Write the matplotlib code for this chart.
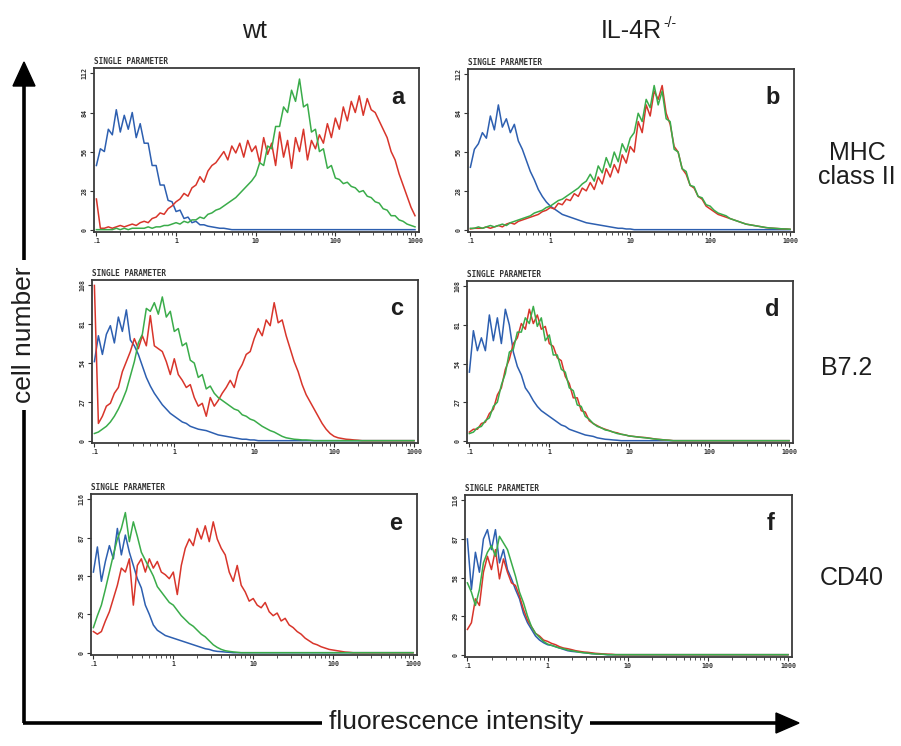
import numpy as np
import matplotlib
matplotlib.use("Agg")
import matplotlib.pyplot as plt
from matplotlib.lines import Line2D
from matplotlib.patches import Polygon
from matplotlib.ticker import LogLocator, NullFormatter

# ---------------- data (cell counts per channel, log x from 0.1 to 1000, 81 channels) -------------
X_TICKS = [0.1, 1, 10, 100, 1000]
X_TICK_LABELS = [".1", "1", "10", "100", "1000"]

Y_TICKS_MHC = [0, 28, 56, 84, 112]
Y_TICKS_B72 = [0, 27, 54, 81, 108]
Y_TICKS_CD40 = [0, 29, 58, 87, 116]

PANEL_LETTERS = ["a", "b", "c", "d", "e", "f"]
COLUMN_TITLES = ["wt", "IL-4R"]
COLUMN_SUPERSCRIPT = "-/-"
ROW_TITLES = ["MHC\nclass II", "B7.2", "CD40"]

# panel a (wt, MHC class II)
A_BLUE = [46, 58, 56, 72, 68, 86, 70, 82, 72, 84,
          66, 76, 62, 62, 46, 46, 32, 32, 21, 20,
          13, 14, 8, 9, 5, 6, 3.5, 3.5, 2.5, 2,
          1.5, 1, 1, 0.5, 0, 0, 0, 0, 0, 0,
          0, 0, 0, 0, 0, 0, 0, 0, 0, 0,
          0, 0, 0, 0, 0, 0, 0, 0, 0, 0,
          0, 0, 0, 0, 0, 0, 0, 0, 0, 0,
          0, 0, 0, 0, 0, 0, 0, 0, 0, 0,
          0]
A_RED = [22, 1, 1, 2, 1, 2, 3, 2, 3, 4,
         3, 5, 6, 5, 8, 9, 12, 11, 15, 17,
         20, 22, 26, 24, 30, 32, 38, 34, 42, 46,
         48, 52, 56, 50, 60, 55, 62, 52, 64, 56,
         60, 48, 66, 54, 62, 46, 70, 52, 64, 44,
         66, 56, 72, 50, 64, 58, 68, 62, 76, 66,
         80, 72, 88, 78, 92, 84, 96, 82, 94, 86,
         84, 78, 72, 66, 56, 50, 40, 32, 24, 16,
         10]
A_GREEN = [0, 0, 0, 0, 0, 1, 0, 1, 0, 1,
           1, 1, 1, 2, 1, 2, 2, 3, 3, 4,
           5, 4, 6, 5, 7, 7, 9, 8, 11, 12,
           14, 15, 17, 19, 21, 23, 26, 29, 32, 35,
           39, 48, 46, 60, 58, 74, 74, 88, 84, 100,
           92, 108, 88, 90, 70, 72, 56, 58, 44, 46,
           37, 36, 33, 34, 31, 30, 27, 28, 24, 23,
           20, 19, 15, 14, 10, 10, 7, 6, 4, 3,
           2]

# panel b (IL-4R-/-, MHC class II)
B_BLUE = [45, 58, 62, 70, 66, 82, 72, 90, 74, 80,
          70, 76, 64, 58, 50, 42, 36, 29, 24, 20,
          17, 15, 13, 11, 10, 9, 8, 7, 6, 5,
          4.5, 4, 3.5, 3, 2.5, 2, 1.5, 1, 1, 0.5,
          0.5, 0, 0, 0, 0, 0, 0, 0, 0, 0,
          0, 0, 0, 0, 0, 0, 0, 0, 0, 0,
          0, 0, 0, 0, 0, 0, 0, 0, 0, 0,
          0, 0, 0, 0, 0, 0, 0, 0, 0, 0,
          0]
B_RED = [0.5, 1, 1, 1, 2, 1, 2, 3, 2, 4,
         5, 4, 6, 7, 8, 9, 10, 11, 13, 14,
         16, 15, 19, 18, 22, 21, 26, 24, 30, 28,
         34, 29, 38, 33, 44, 38, 47, 41, 54, 48,
         60, 56, 78, 70, 90, 82, 100, 94, 104, 84,
         76, 60, 56, 44, 40, 32, 30, 24, 22, 17,
         15, 13, 11, 10, 9, 8, 7, 6, 5, 4,
         3.5, 3, 2.5, 2, 1.5, 1.2, 1, 0.8, 0.6, 0.5,
         0.3]
B_GREEN = [1, 1, 2, 1, 2, 3, 2, 3, 4, 3,
           5, 6, 7, 8, 9, 10, 12, 13, 14, 16,
           17, 19, 21, 22, 24, 26, 28, 30, 33, 35,
           40, 35, 46, 41, 52, 45, 56, 49, 62, 56,
           66, 70, 84, 78, 94, 88, 104, 90, 100, 80,
           78, 58, 56, 44, 42, 32, 31, 24, 23, 18,
           17, 14, 12, 11, 10, 8, 7, 6, 5, 4,
           3.5, 3, 2.5, 2, 1.5, 1.2, 1, 0.8, 0.6, 0.5,
           0.3]

# panel c (wt, B7.2)
C_BLUE = [55, 73, 60, 74, 80, 68, 86, 76, 91, 70,
          66, 60, 52, 44, 38, 33, 29, 25, 22, 19,
          17, 15, 13, 12, 10, 9, 8, 7.5, 7, 6,
          5, 4, 3.5, 3, 2.5, 2, 1.5, 1, 1, 0.5,
          0.5, 0, 0, 0, 0, 0, 0, 0, 0, 0,
          0, 0, 0, 0, 0, 0, 0, 0, 0, 0,
          0, 0, 0, 0, 0, 0, 0, 0, 0, 0,
          0, 0, 0, 0, 0, 0, 0, 0, 0, 0,
          0]
C_RED = [108, 12, 17, 24, 26, 33, 37, 48, 55, 62,
         71, 64, 73, 66, 87, 66, 64, 62, 55, 46,
         57, 46, 42, 37, 39, 30, 24, 26, 17, 30,
         24, 28, 33, 37, 42, 37, 48, 53, 60, 62,
         71, 78, 73, 84, 80, 96, 82, 84, 73, 64,
         55, 48, 39, 32, 27, 22, 17, 12, 8, 5,
         3, 2, 1.5, 1, 0.8, 0.5, 0.3, 0, 0, 0,
         0, 0, 0, 0, 0, 0, 0, 0, 0, 0,
         0]
C_GREEN = [5, 6, 8, 10, 13, 17, 22, 28, 35, 45,
           55, 68, 74, 92, 90, 96, 88, 100, 86, 90,
           76, 78, 66, 68, 56, 54, 44, 46, 36, 38,
           33, 30, 28, 26, 24, 22, 21, 18, 17, 15,
           14, 12, 10, 8.5, 7, 6, 4.5, 3, 2, 1.5,
           1, 0.8, 0.5, 0.5, 0.3, 0, 0, 0, 0, 0,
           0, 0, 0, 0, 0, 0, 0, 0, 0, 0,
           0, 0, 0, 0, 0, 0, 0, 0, 0, 0,
           0]

# panel d (IL-4R-/-, B7.2)
D_BLUE = [48, 77, 63, 72, 63, 88, 70, 86, 68, 92,
          81, 62, 52, 46, 37, 33, 28, 24, 21, 19,
          17, 15, 13, 11, 10, 8, 7, 6, 5, 4,
          3.5, 3, 2, 1.5, 1, 0.8, 0.5, 0.3, 0, 0,
          0, 0, 0, 0, 0, 0, 0, 0, 0, 0,
          0, 0, 0, 0, 0, 0, 0, 0, 0, 0,
          0, 0, 0, 0, 0, 0, 0, 0, 0, 0,
          0, 0, 0, 0, 0, 0, 0, 0, 0, 0,
          0]
D_RED = [6, 8, 8, 12, 13, 19, 22, 32, 37, 50,
         57, 68, 72, 82, 78, 92, 82, 88, 78, 80,
         68, 66, 58, 56, 45, 40, 30, 30, 21, 20,
         14, 12, 10.5, 9, 8, 7, 6, 5.5, 4.5, 4,
         3.3, 3, 2.7, 2.4, 2.2, 1.8, 1.4, 1, 0.8, 0.5,
         0.3, 0, 0, 0, 0, 0, 0, 0, 0, 0,
         0, 0, 0, 0, 0, 0, 0, 0, 0, 0,
         0, 0, 0, 0, 0, 0, 0, 0, 0, 0,
         0]
D_GREEN = [5, 6, 9, 10, 14, 16, 24, 27, 39, 47,
           62, 64, 76, 76, 86, 82, 94, 80, 86, 70,
           74, 60, 60, 50, 48, 37, 35, 25, 24, 17,
           15, 12, 10, 9, 7.5, 7, 6, 5, 4.5, 4,
           3.3, 3, 2.6, 2.3, 2, 1.7, 1.3, 1, 0.7, 0.5,
           0.3, 0, 0, 0, 0, 0, 0, 0, 0, 0,
           0, 0, 0, 0, 0, 0, 0, 0, 0, 0,
           0, 0, 0, 0, 0, 0, 0, 0, 0, 0,
           0]

# panel e (wt, CD40)
E_BLUE = [61, 80, 54, 69, 81, 71, 94, 74, 89, 76,
          66, 56, 49, 36, 29, 21, 17, 15, 13, 12,
          11, 10, 9, 8, 7, 6, 5, 4, 3, 2.5,
          1.5, 1, 0.8, 0.5, 0.3, 0, 0, 0, 0, 0,
          0, 0, 0, 0, 0, 0, 0, 0, 0, 0,
          0, 0, 0, 0, 0, 0, 0, 0, 0, 0,
          0, 0, 0, 0, 0, 0, 0, 0, 0, 0,
          0, 0, 0, 0, 0, 0, 0, 0, 0, 0,
          0]
E_RED = [16, 14, 16, 24, 31, 41, 51, 64, 61, 71,
         36, 66, 71, 61, 71, 64, 69, 61, 59, 56,
         61, 44, 66, 79, 86, 81, 94, 86, 96, 84,
         99, 86, 79, 74, 61, 54, 66, 51, 46, 39,
         41, 36, 34, 38, 31, 28, 30, 24, 26, 21,
         19, 16, 14, 11, 9, 7, 6, 4.5, 3.5, 2.5,
         2, 1.5, 1, 0.5, 0.3, 0, 0, 0, 0, 0,
         0, 0, 0, 0, 0, 0, 0, 0, 0, 0,
         0]
E_GREEN = [19, 28, 36, 48, 61, 74, 86, 94, 106, 84,
           99, 88, 76, 70, 64, 58, 50, 46, 42, 38,
           36, 32, 28, 25, 22, 20, 17, 14, 12, 9,
           6, 4, 2.5, 1.5, 1, 0.6, 0.3, 0, 0, 0,
           0, 0, 0, 0, 0, 0, 0, 0, 0, 0,
           0, 0, 0, 0, 0, 0, 0, 0, 0, 0,
           0, 0, 0, 0, 0, 0, 0, 0, 0, 0,
           0, 0, 0, 0, 0, 0, 0, 0, 0, 0,
           0]

# panel f (IL-4R-/-, CD40)
F_BLUE = [87, 49, 77, 62, 87, 94, 79, 94, 69, 79,
          64, 57, 49, 42, 31, 24, 19, 14, 11, 9,
          7.5, 7, 6, 5, 4, 3, 2.5, 2.2, 2, 1.5,
          1.2, 0.8, 0.6, 0.4, 0.3, 0, 0, 0, 0, 0,
          0, 0, 0, 0, 0, 0, 0, 0, 0, 0,
          0, 0, 0, 0, 0, 0, 0, 0, 0, 0,
          0, 0, 0, 0, 0, 0, 0, 0, 0, 0,
          0, 0, 0, 0, 0, 0, 0, 0, 0, 0,
          0]
F_RED = [19, 24, 42, 37, 62, 74, 64, 79, 57, 72,
         62, 54, 52, 44, 34, 26, 21, 16, 14, 11,
         10, 8.5, 7.5, 6, 5, 4.5, 3.8, 3, 2.5, 2,
         1.8, 1.4, 1, 0.8, 0.5, 0.4, 0.3, 0, 0, 0,
         0, 0, 0, 0, 0, 0, 0, 0, 0, 0,
         0, 0, 0, 0, 0, 0, 0, 0, 0, 0,
         0, 0, 0, 0, 0, 0, 0, 0, 0, 0,
         0, 0, 0, 0, 0, 0, 0, 0, 0, 0,
         0]
F_GREEN = [54, 47, 37, 49, 69, 77, 82, 74, 89, 84,
           79, 69, 59, 47, 39, 29, 21, 16, 13, 10,
           8, 7, 6, 5, 4.5, 3.5, 3, 2.5, 1.8, 1.5,
           1.2, 0.8, 0.6, 0.4, 0.3, 0, 0, 0, 0, 0,
           0, 0, 0, 0, 0, 0, 0, 0, 0, 0,
           0, 0, 0, 0, 0, 0, 0, 0, 0, 0,
           0, 0, 0, 0, 0, 0, 0, 0, 0, 0,
           0, 0, 0, 0, 0, 0, 0, 0, 0, 0,
           0]

# ---------------- layout / style ----------------
W, H = 901, 746
BLUE, RED, GREEN = "#2d5fb0", "#d8352b", "#3aac4a"
TXT = "#1e1e1e"
SANS = ["Liberation Sans", "DejaVu Sans"]
MONO = ["DejaVu Sans Mono"]

# panel boxes in pixels: left, top, right, bottom
BOXES = [(94, 68, 419, 232), (468, 69, 794, 232),
         (92, 280, 418, 443), (467, 281, 793, 443),
         (91, 494, 417, 655), (465, 495, 792, 657)]

PANELS = [
    (A_BLUE, A_RED, A_GREEN, Y_TICKS_MHC),
    (B_BLUE, B_RED, B_GREEN, Y_TICKS_MHC),
    (C_BLUE, C_RED, C_GREEN, Y_TICKS_B72),
    (D_BLUE, D_RED, D_GREEN, Y_TICKS_B72),
    (E_BLUE, E_RED, E_GREEN, Y_TICKS_CD40),
    (F_BLUE, F_RED, F_GREEN, Y_TICKS_CD40),
]

channels = np.logspace(-1, 3, len(A_BLUE))

fig = plt.figure(figsize=(W / 100, H / 100), dpi=100)
fig.patch.set_facecolor("white")


def px(x, y):
    return (x / W, 1 - y / H)


for k, ((blue, red, green, yt), box) in enumerate(zip(PANELS, BOXES)):
    l, t, r, b = box
    ax = fig.add_axes([l / W, 1 - b / H, (r - l) / W, (b - t) / H])
    ax.plot(channels, blue, color=BLUE, lw=1.1)
    ax.plot(channels, red, color=RED, lw=1.1)
    ax.plot(channels, green, color=GREEN, lw=1.1)
    ax.set_xscale("log")
    ax.set_xlim(10 ** -1.03, 10 ** 3.05)
    ax.set_ylim(-0.015 * yt[-1], yt[-1] * 1.035)
    ax.set_xticks(X_TICKS)
    ax.set_xticklabels(X_TICK_LABELS)
    ax.xaxis.set_minor_locator(LogLocator(base=10, subs=np.arange(2, 10)))
    ax.xaxis.set_minor_formatter(NullFormatter())
    ax.set_yticks(yt)
    ax.set_yticklabels([str(v) for v in yt], rotation=90, va="center")
    ax.tick_params(axis="both", which="major", direction="out", length=3,
                   width=0.8, labelsize=4.8, pad=1.5, color="#333333")
    ax.tick_params(axis="x", which="minor", direction="out", length=1.8,
                   width=0.6, color="#333333")
    for lab in ax.get_xticklabels() + ax.get_yticklabels():
        lab.set_fontfamily(MONO)
        lab.set_fontweight("bold")
        lab.set_color("#333333")
    for sp in ax.spines.values():
        sp.set_linewidth(1.3)
        sp.set_color("#3a3a3a")
    ax.text(0.0, 1.01, "SINGLE PARAMETER", transform=ax.transAxes,
            fontsize=5.6, family=MONO, fontweight="bold", color="#333333",
            ha="left", va="bottom")
    ax.text(1 - 21 / (r - l), 1 - 29 / (b - t), PANEL_LETTERS[k],
            transform=ax.transAxes, fontsize=17, fontweight="bold",
            family=SANS, color=TXT, ha="center", va="center")

# column and row titles
fig.text(*px(254, 38), COLUMN_TITLES[0], fontsize=18, family=SANS,
         color=TXT, ha="center", va="baseline")
fig.text(*px(662, 38), COLUMN_TITLES[1], fontsize=18, family=SANS,
         color=TXT, ha="right", va="baseline")
fig.text(*px(663, 27), COLUMN_SUPERSCRIPT, fontsize=10, family=SANS,
         color=TXT, ha="left", va="baseline")
fig.text(*px(857, 165), ROW_TITLES[0], fontsize=18, family=SANS, color=TXT,
         ha="center", va="center", linespacing=0.95)
fig.text(*px(847, 368), ROW_TITLES[1], fontsize=18, family=SANS, color=TXT,
         ha="center", va="center")
fig.text(*px(852, 578), ROW_TITLES[2], fontsize=18, family=SANS, color=TXT,
         ha="center", va="center")

# big axis arrows
lw_arrow = 2.6
fig.add_artist(Line2D([24 / W, 24 / W], [1 - 723 / H, 1 - 82 / H],
                      color="black", lw=lw_arrow, solid_capstyle="butt"))
fig.add_artist(Line2D([23 / W, 780 / W], [1 - 723 / H, 1 - 723 / H],
                      color="black", lw=lw_arrow, solid_capstyle="butt"))
fig.add_artist(Polygon([px(24, 62), px(13, 86), px(35, 86)], closed=True,
                       facecolor="black", edgecolor="black",
                       transform=fig.transFigure))
fig.add_artist(Polygon([px(799, 723), px(776, 713), px(776, 733)], closed=True,
                       facecolor="black", edgecolor="black",
                       transform=fig.transFigure))
fig.text(*px(24, 335), "cell number", rotation=90, fontsize=19, family=SANS,
         color=TXT, ha="center", va="center",
         bbox=dict(facecolor="white", edgecolor="none", pad=5))
fig.text(*px(456, 722), "fluorescence intensity", fontsize=19, family=SANS,
         color=TXT, ha="center", va="center",
         bbox=dict(facecolor="white", edgecolor="none", pad=5))

fig.savefig("out.png", dpi=100, facecolor="white")
